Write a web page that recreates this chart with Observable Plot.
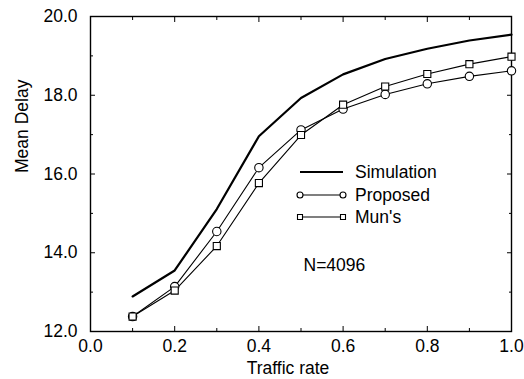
<!DOCTYPE html>
<html><head><meta charset="utf-8">
<script src="https://cdn.jsdelivr.net/npm/d3@7"></script>
<script src="https://cdn.jsdelivr.net/npm/@observablehq/plot@0.6"></script>
<style>
html,body{margin:0;padding:0;background:#fff;}
#chart{position:relative;width:524px;height:379px;overflow:hidden;}
#chart svg{position:absolute;left:0;top:0;}
</style></head><body><div id="chart"></div>
<script>
const trafficRate = [0.1, 0.2, 0.3, 0.4, 0.5, 0.6, 0.7, 0.8, 0.9, 1.0];
const simulation = [12.89, 13.55, 15.11, 16.96, 17.93, 18.53, 18.92, 19.18, 19.39, 19.54];
const proposed   = [12.38, 13.14, 14.54, 16.16, 17.12, 17.65, 18.02, 18.29, 18.48, 18.62];
const muns       = [12.38, 13.04, 14.17, 15.77, 16.99, 17.76, 18.22, 18.54, 18.79, 18.98];
const seriesNames = ["Simulation", "Proposed", "Mun's"];
const xTicks = [0.0, 0.2, 0.4, 0.6, 0.8, 1.0];
const xMinorTicks = [0.1, 0.3, 0.5, 0.7, 0.9];
const yTicks = [12, 14, 16, 18, 20];
const yMinorTicks = [13, 15, 17, 19];
const xLabel = "Traffic rate";
const yLabel = "Mean Delay";
const noteText = "N=4096";

const font = "'Liberation Sans', Arial, Helvetica, sans-serif";
const fmt = d3.format(".1f");
const rows = trafficRate.flatMap((x, i) => [
  {x, y: simulation[i], s: seriesNames[0]},
  {x, y: proposed[i], s: seriesNames[1]},
  {x, y: muns[i], s: seriesNames[2]}
]);
const bySeries = name => rows.filter(d => d.s === name);
const blank = () => "";

const plot = Plot.plot({
  width: 524, height: 379,
  marginLeft: 90, marginRight: 13, marginTop: 16, marginBottom: 48,
  style: {fontFamily: font, fontSize: "17.5px", color: "#000", background: "#fff"},
  x: {domain: [0, 1]},
  y: {domain: [12, 20]},
  marks: [
    Plot.axisX(xTicks, {anchor: "bottom", tickSize: 0, tickPadding: 8, tickFormat: fmt, label: null}),
    Plot.axisX(xTicks, {anchor: "bottom", tickSize: -5, tickFormat: blank, label: null}),
    Plot.axisX(xMinorTicks, {anchor: "bottom", tickSize: -3, tickFormat: blank, label: null}),
    Plot.axisX(xTicks, {anchor: "top", tickSize: -5, tickFormat: blank, label: null}),
    Plot.axisX(xMinorTicks, {anchor: "top", tickSize: -3, tickFormat: blank, label: null}),
    Plot.axisY(yTicks, {anchor: "left", tickSize: 0, tickPadding: 13, tickFormat: fmt, label: null}),
    Plot.axisY(yTicks, {anchor: "left", tickSize: -5, tickFormat: blank, label: null}),
    Plot.axisY(yMinorTicks, {anchor: "left", tickSize: -3, tickFormat: blank, label: null}),
    Plot.axisY(yTicks, {anchor: "right", tickSize: -5, tickFormat: blank, label: null}),
    Plot.axisY(yMinorTicks, {anchor: "right", tickSize: -3, tickFormat: blank, label: null}),
    Plot.frame({stroke: "#000", strokeWidth: 1.4}),
    Plot.line(bySeries(seriesNames[0]), {x: "x", y: "y", stroke: "#000", strokeWidth: 2.2}),
    Plot.line(bySeries(seriesNames[1]), {x: "x", y: "y", stroke: "#000", strokeWidth: 1.1}),
    Plot.line(bySeries(seriesNames[2]), {x: "x", y: "y", stroke: "#000", strokeWidth: 1.1}),
    Plot.dot(bySeries(seriesNames[1]), {x: "x", y: "y", r: 4.2, symbol: "circle", stroke: "#000", fill: "#fff", strokeWidth: 1.1}),
    Plot.dot(bySeries(seriesNames[2]), {x: "x", y: "y", r: 4, symbol: "square", stroke: "#000", fill: "#fff", strokeWidth: 1.1}),
    Plot.text([xLabel], {frameAnchor: "bottom", lineAnchor: "middle", dy: 37, dx: -13, fontSize: 17.5}),
    Plot.text([yLabel], {frameAnchor: "left", lineAnchor: "middle", rotate: -90, dx: -68, dy: -1, fontSize: 17.5}),
    Plot.text([noteText], {frameAnchor: "top-left", lineAnchor: "middle", dx: 213, dy: 249, textAnchor: "start", fontSize: 17.5})
  ]
});
const chart = document.getElementById("chart");
chart.appendChild(plot);

// legend overlay
const leg = d3.select(chart).append("svg")
  .attr("width", 524).attr("height", 379)
  .style("font-family", font).style("font-size", "17.5px");
const legRows = [
  {name: seriesNames[0], y: 172, w: 2.2, sym: null},
  {name: seriesNames[1], y: 195, w: 1.1, sym: "circle"},
  {name: seriesNames[2], y: 217, w: 1.1, sym: "square"}
];
const x0 = 300, x1 = 343;
const g = leg.selectAll("g").data(legRows).join("g").attr("transform", d => `translate(0,${d.y})`);
g.append("line").attr("x1", x0).attr("x2", x1).attr("stroke", "#000").attr("stroke-width", d => d.w);
g.filter(d => d.sym).selectAll("path").data(d => [x0, x1].map(x => ({x, sym: d.sym}))).join("path")
  .attr("transform", d => `translate(${d.x},0)`)
  .attr("d", d => d3.symbol(d.sym === "circle" ? d3.symbolCircle : d3.symbolSquare, d.sym === "circle" ? Math.PI * 9 : 25)())
  .attr("fill", "#fff").attr("stroke", "#000").attr("stroke-width", 1.1);
g.append("text").attr("x", 355).attr("dy", "0.35em").text(d => d.name);
</script>
</body></html>
